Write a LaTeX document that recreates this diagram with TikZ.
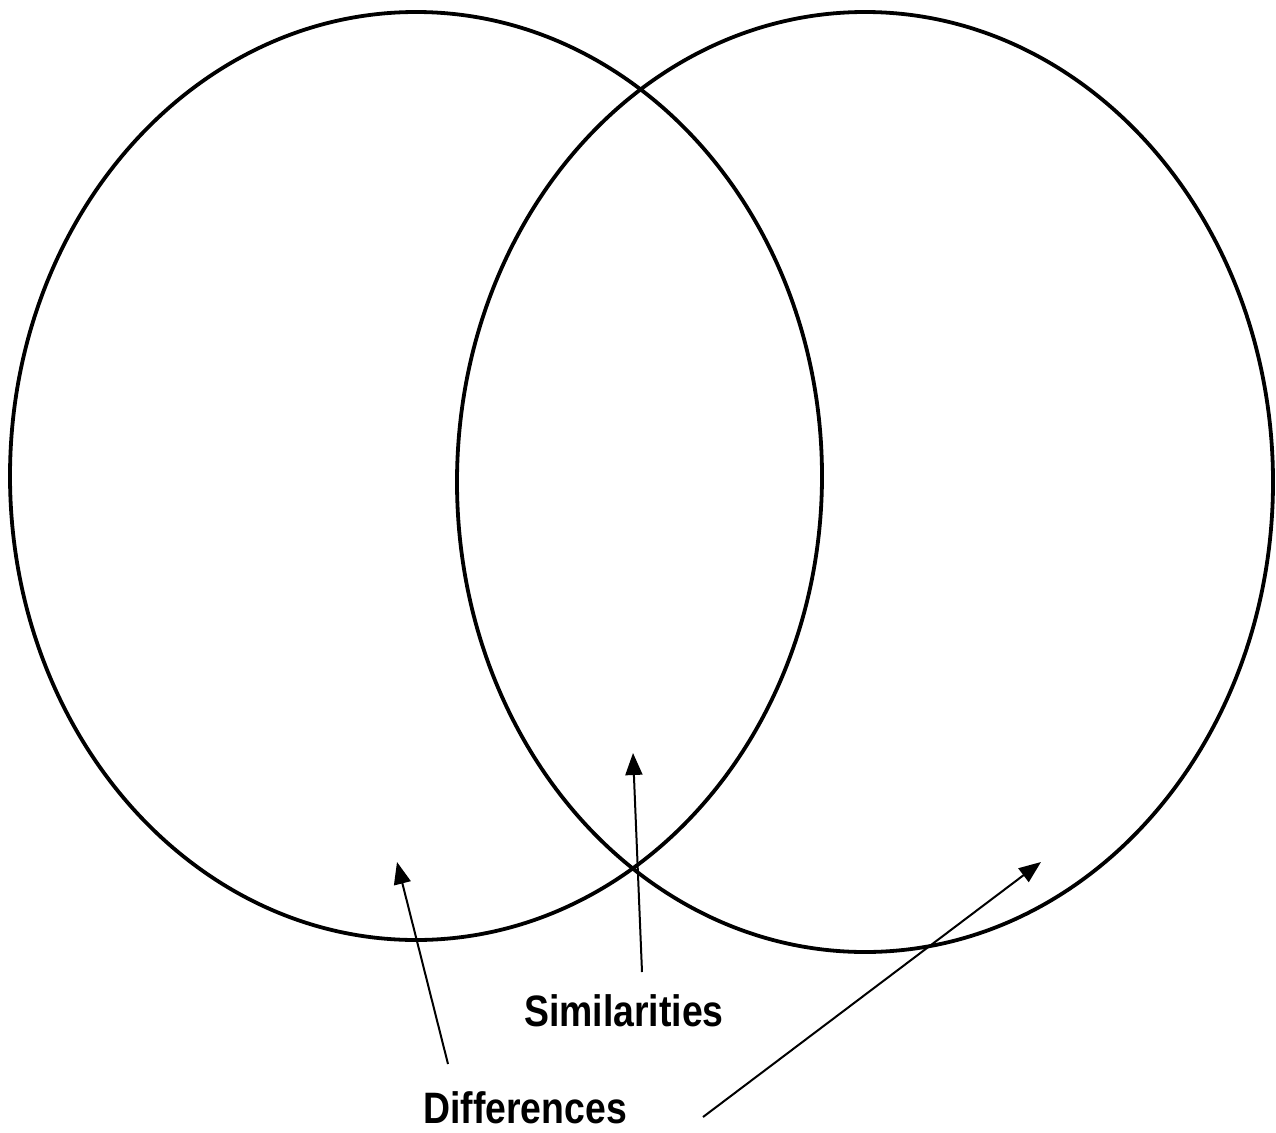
\documentclass[tikz,border=0pt]{standalone}
\usepackage{fontspec}
\setmainfont{Liberation Sans}
\usetikzlibrary{arrows.meta}
\tikzset{
  ring/.style={draw=black, line width=3.8pt},
  pointer/.style={draw=black, line width=2pt, -{Triangle[length=22pt,width=17pt]}},
  label/.style={font=\fontsize{44}{48}\selectfont\bfseries, inner sep=0pt, anchor=center}
}
\begin{document}
\begin{tikzpicture}[x=1pt,y=-1pt]
\useasboundingbox (0,0) rectangle (1276,1132);
\fill[white] (0,0) rectangle (1276,1132);
% circles
\draw[ring] (416,476) ellipse [x radius=406, y radius=464];
\draw[ring] (865,482) ellipse [x radius=408, y radius=470];
% labels
\node[label] (sim) at (624,1011) {\scalebox{0.85}[1]{Similarities}};
\node[label] (diff) at (525,1108) {\scalebox{0.85}[1]{Differences}};
% arrow end points
\coordinate (d1tail) at (448,1064);
\coordinate (d1tip) at (397,862);
\coordinate (stail) at (642,972);
\coordinate (stip) at (633,753);
\coordinate (d2tail) at (703,1117);
\coordinate (d2tip) at (1041,862);
\draw[pointer] (d1tail) -- (d1tip);
\draw[pointer] (stail) -- (stip);
\draw[pointer] (d2tail) -- (d2tip);
\end{tikzpicture}
\end{document}
